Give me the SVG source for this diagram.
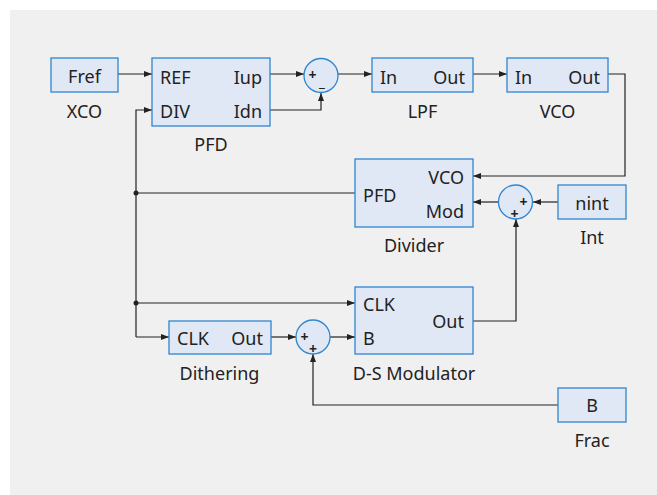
<svg xmlns="http://www.w3.org/2000/svg" width="657" height="495" viewBox="0 0 657 495">
<defs>
<style>
.bg{fill:#f0f0f0}
.box{fill:#e1e8f5;stroke:#2e86d0;stroke-width:1.3}
.sum{fill:#e1e8f5;stroke:#2e86d0;stroke-width:1.3}
.t{font-family:"Noto Sans","Open Sans",sans-serif;font-size:18px;fill:#222}
.s{font-family:"Noto Sans","Open Sans",sans-serif;font-size:14px;font-weight:bold;fill:#222}
.m{text-anchor:middle}
.e{text-anchor:end}
.w{fill:none;stroke:#222;stroke-width:1.2}
.dot{fill:#222}
</style>
<marker id="ah" viewBox="0 0 8 6" refX="8" refY="3" markerWidth="8" markerHeight="6" markerUnits="userSpaceOnUse" orient="auto">
<path d="M0,0 L8,3 L0,6 Z" fill="#222"/>
</marker>
</defs>
<rect class="bg" x="10" y="10" width="647" height="485"/>

<g id="connectors">
<path class="w" d="M118,74 H152" marker-end="url(#ah)"/>
<path class="w" d="M270,74 H304" marker-end="url(#ah)"/>
<path class="w" d="M270,110 H321 V93" marker-end="url(#ah)"/>
<path class="w" d="M338,74 H372" marker-end="url(#ah)"/>
<path class="w" d="M473,74 H507" marker-end="url(#ah)"/>
<path class="w" d="M608,74 H625 V176 H473" marker-end="url(#ah)"/>
<path class="w" d="M498,202 H473" marker-end="url(#ah)"/>
<path class="w" d="M558,202 H533" marker-end="url(#ah)"/>
<path class="w" d="M355,193 H136"/>
<path class="w" d="M136,337 V110 H152" marker-end="url(#ah)"/>
<path class="w" d="M136,303 H355" marker-end="url(#ah)"/>
<path class="w" d="M136,337 H169" marker-end="url(#ah)"/>
<path class="w" d="M271,337 H296" marker-end="url(#ah)"/>
<path class="w" d="M330,337 H355" marker-end="url(#ah)"/>
<path class="w" d="M473,321 H516 V219" marker-end="url(#ah)"/>
<path class="w" d="M558,405 H313 V354" marker-end="url(#ah)"/>
<circle class="dot" cx="136" cy="193" r="2.5"/>
<circle class="dot" cx="136" cy="303" r="2.5"/>
</g>

<g id="xco">
<rect class="box" x="51" y="58" width="67" height="34"/>
<text class="t m" x="84.5" y="83">Fref</text>
<text class="t m" x="84.5" y="118">XCO</text>
</g>

<g id="pfd">
<rect class="box" x="152" y="58" width="118" height="68"/>
<text class="t" x="160" y="84">REF</text>
<text class="t e" x="262" y="84">Iup</text>
<text class="t" x="160" y="118">DIV</text>
<text class="t e" x="262" y="118">Idn</text>
<text class="t m" x="211" y="151">PFD</text>
</g>

<g id="sum1">
<circle class="sum" cx="321" cy="75.5" r="17"/>
<text class="s m" x="312.5" y="80">+</text>
<text class="s m" x="322" y="87">_</text>
</g>

<g id="lpf">
<rect class="box" x="372" y="58" width="101" height="34"/>
<text class="t" x="380" y="84">In</text>
<text class="t e" x="465" y="84">Out</text>
<text class="t m" x="422.5" y="118">LPF</text>
</g>

<g id="vco">
<rect class="box" x="507" y="58" width="101" height="34"/>
<text class="t" x="515" y="84">In</text>
<text class="t e" x="600" y="84">Out</text>
<text class="t m" x="557.5" y="118">VCO</text>
</g>

<g id="divider">
<rect class="box" x="355" y="159" width="118" height="68"/>
<text class="t e" x="464" y="184">VCO</text>
<text class="t" x="363" y="202">PFD</text>
<text class="t e" x="464" y="218">Mod</text>
<text class="t m" x="414" y="252">Divider</text>
</g>

<g id="sum2">
<circle class="sum" cx="515.5" cy="202" r="17"/>
<text class="s m" x="523.5" y="207">+</text>
<text class="s m" x="514.5" y="219">+</text>
</g>

<g id="int">
<rect class="box" x="558" y="185" width="68" height="34"/>
<text class="t m" x="592" y="210">nint</text>
<text class="t m" x="592" y="244">Int</text>
</g>

<g id="dsmod">
<rect class="box" x="355" y="287" width="118" height="67"/>
<text class="t" x="363" y="311">CLK</text>
<text class="t e" x="464" y="328">Out</text>
<text class="t" x="363" y="345">B</text>
<text class="t m" x="414" y="380">D-S Modulator</text>
</g>

<g id="dithering">
<rect class="box" x="169" y="321" width="102" height="33"/>
<text class="t" x="177" y="345">CLK</text>
<text class="t e" x="263" y="345">Out</text>
<text class="t m" x="219.5" y="380">Dithering</text>
</g>

<g id="sum3">
<circle class="sum" cx="313" cy="337" r="17"/>
<text class="s m" x="304.5" y="342">+</text>
<text class="s m" x="313" y="354">+</text>
</g>

<g id="frac">
<rect class="box" x="558" y="388" width="68" height="34"/>
<text class="t m" x="592" y="412">B</text>
<text class="t m" x="592" y="447">Frac</text>
</g>
</svg>
